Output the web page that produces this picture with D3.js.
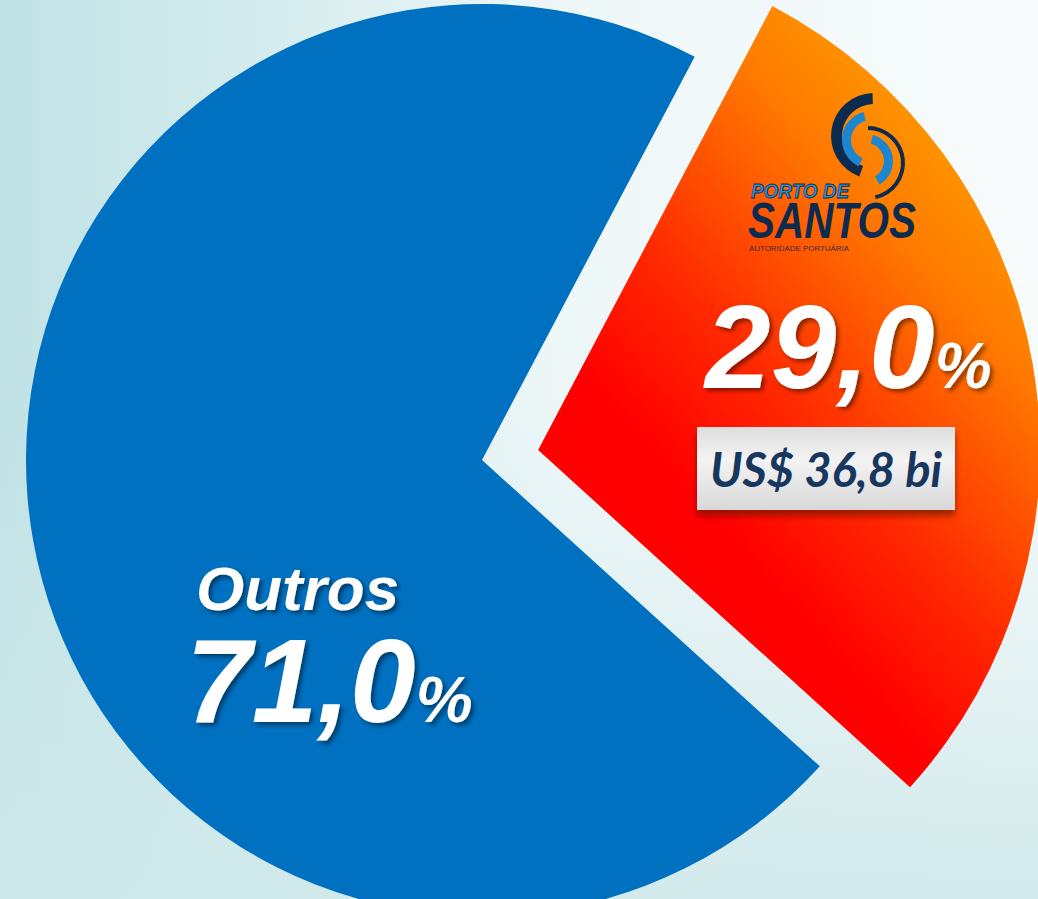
<!DOCTYPE html>
<html>
<head>
<meta charset="utf-8">
<script src="https://cdn.jsdelivr.net/npm/d3@7"></script>
<style>
  html, body { margin: 0; padding: 0; overflow: hidden; }
  svg { display: block; }
</style>
</head>
<body>
<svg></svg>
<script>
// data
const categories = ['Porto de Santos', 'Outros'];
const shares = [29.0, 71.0];
const pctLabels = ['29,0', '71,0'];
const valueLabels = ['US$ 36,8 bi', ''];

const width = 1038;
const height = 899;
const cx = 482, cy = 460;
const deg = Math.PI / 180;

const svg = d3.select('svg')
    .attr('width', width)
    .attr('height', height);

const defs = svg.append('defs');

// background
const bgX = defs.append('linearGradient').attr('id', 'bgx')
    .attr('x1', 0).attr('y1', 0).attr('x2', 1).attr('y2', 0);
bgX.append('stop').attr('offset', 0).attr('stop-color', '#c0e2e5');
bgX.append('stop').attr('offset', 0.55).attr('stop-color', '#eef7f8');
bgX.append('stop').attr('offset', 1).attr('stop-color', '#f8fbfc');

const bgY = defs.append('linearGradient').attr('id', 'bgy')
    .attr('x1', 0).attr('y1', 0).attr('x2', 0).attr('y2', 1);
bgY.append('stop').attr('offset', 0.45).attr('stop-color', '#cfe8ea').attr('stop-opacity', 0);
bgY.append('stop').attr('offset', 1).attr('stop-color', '#cfe8ea').attr('stop-opacity', 0.9);

svg.append('rect').attr('width', width).attr('height', height).attr('fill', 'url(#bgx)');
svg.append('rect').attr('width', width).attr('height', height).attr('fill', 'url(#bgy)');

// slice fills
const orange = defs.append('linearGradient').attr('id', 'orange')
    .attr('gradientUnits', 'userSpaceOnUse')
    .attr('x1', 590).attr('y1', 530).attr('x2', 990).attr('y2', 170);
orange.append('stop').attr('offset', 0).attr('stop-color', '#ff0000');
orange.append('stop').attr('offset', 0.25).attr('stop-color', '#ff2a00');
orange.append('stop').attr('offset', 0.6).attr('stop-color', '#ff7800');
orange.append('stop').attr('offset', 1).attr('stop-color', '#ffb400');

const box = defs.append('linearGradient').attr('id', 'box')
    .attr('x1', 0).attr('y1', 0).attr('x2', 0).attr('y2', 1);
box.append('stop').attr('offset', 0).attr('stop-color', '#dedede');
box.append('stop').attr('offset', 0.4).attr('stop-color', '#f3f3f3');
box.append('stop').attr('offset', 1).attr('stop-color', '#d8d8d8');

const shadow = defs.append('filter').attr('id', 'shadow')
    .attr('x', -0.1).attr('y', -0.1).attr('width', 1.3).attr('height', 1.4);
shadow.append('feDropShadow').attr('dx', 3).attr('dy', 3).attr('stdDeviation', 2)
    .attr('flood-color', '#000').attr('flood-opacity', 0.45);

const boxShadow = defs.append('filter').attr('id', 'boxshadow')
    .attr('x', -0.1).attr('y', -0.2).attr('width', 1.2).attr('height', 1.6);
boxShadow.append('feDropShadow').attr('dx', 0).attr('dy', 6).attr('stdDeviation', 3)
    .attr('flood-color', '#5a1000').attr('flood-opacity', 0.6);

const colors = d3.scaleOrdinal()
    .domain(categories)
    .range(['url(#orange)', '#0070c0']);

const radius = d3.scaleOrdinal()
    .domain(categories)
    .range([502, 456]);

const explode = d3.scaleOrdinal()
    .domain(categories)
    .range([57, 0]);

// orange slice centred on the 80 degree direction
const start = 80 * deg - Math.PI * shares[0] / 100;

const data = categories.map((c, i) => ({category: c, share: shares[i], pct: pctLabels[i], value: valueLabels[i]}));

const arcs = d3.pie()
    .sort(null)
    .value(d => d.share)
    .startAngle(start)
    .endAngle(start + 2 * Math.PI)
    (data);

const arc = d3.arc()
    .innerRadius(0)
    .outerRadius(d => radius(d.data.category));

const chart = svg.append('g')
    .attr('transform', `translate(${cx}, ${cy})`);

chart.selectAll('.slice')
  .data(arcs)
  .enter()
  .append('path')
    .classed('slice', true)
    .attr('transform', d => {
      const mid = (d.startAngle + d.endAngle) / 2;
      const k = explode(d.data.category);
      return `translate(${Math.sin(mid) * k}, ${-Math.cos(mid) * k})`;
    })
    .attr('fill', d => colors(d.data.category))
    .attr('d', arc);

// labels
const bigFont = "'Liberation Sans', Arial, sans-serif";

function pctText(x, y, txt) {
  const t = svg.append('text')
      .attr('x', x).attr('y', y)
      .attr('fill', '#fff')
      .attr('font-family', bigFont)
      .attr('font-weight', 'bold')
      .attr('font-style', 'italic')
      .attr('filter', 'url(#shadow)');
  t.append('tspan').attr('font-size', 118).text(txt);
  t.append('tspan').attr('font-size', 64).text('%');
}

pctText(705, 388, pctLabels[0]);

svg.append('text')
    .attr('x', 196).attr('y', 610)
    .attr('fill', '#fff')
    .attr('font-family', bigFont)
    .attr('font-weight', 'bold')
    .attr('font-style', 'italic')
    .attr('font-size', 62)
    .attr('filter', 'url(#shadow)')
    .text(categories[1]);

pctText(186, 722, pctLabels[1]);

// value box
svg.append('rect')
    .attr('x', 697).attr('y', 427)
    .attr('width', 258).attr('height', 83)
    .attr('fill', 'url(#box)')
    .attr('filter', 'url(#boxshadow)');

svg.append('text')
    .attr('x', 826).attr('y', 487)
    .attr('text-anchor', 'middle')
    .attr('fill', '#17375e')
    .attr('font-family', "Lato, 'Open Sans', sans-serif")
    .attr('font-weight', 'bold')
    .attr('font-style', 'italic')
    .attr('font-size', 47)
    .text(valueLabels[0]);

// logo
const logo = svg.append('g');
const swirl = d3.arc();
const swirls = [
  {x: 874, y: 136, r0: 32, r1: 43, a0: 200, a1: 358, c: '#0d2b4e'},
  {x: 871, y: 140, r0: 20, r1: 29, a0: 205, a1: 345, c: '#1c86d0'},
  {x: 868, y: 163, r0: 33, r1: 37, a0: 0, a1: 168, c: '#0d2b4e'},
  {x: 866, y: 161, r0: 18, r1: 27, a0: 15, a1: 150, c: '#1c86d0'}
];
logo.selectAll('path')
  .data(swirls)
  .enter()
  .append('path')
    .attr('transform', d => `translate(${d.x}, ${d.y})`)
    .attr('fill', d => d.c)
    .attr('d', d => swirl({innerRadius: d.r0, outerRadius: d.r1, startAngle: d.a0 * deg, endAngle: d.a1 * deg}));

logo.append('text')
    .attr('x', 751).attr('y', 198)
    .attr('fill', '#2a92dc')
    .attr('stroke', '#0d2b4e').attr('stroke-width', 0.8)
    .attr('font-family', bigFont)
    .attr('font-weight', 'bold')
    .attr('font-style', 'italic')
    .attr('font-size', 21)
    .attr('textLength', 98)
    .attr('lengthAdjust', 'spacingAndGlyphs')
    .text('PORTO DE');

logo.append('text')
    .attr('x', 748).attr('y', 238)
    .attr('fill', '#0d2b4e')
    .attr('font-family', bigFont)
    .attr('font-weight', 'bold')
    .attr('font-style', 'italic')
    .attr('font-size', 50)
    .attr('textLength', 168)
    .attr('lengthAdjust', 'spacingAndGlyphs')
    .text('SANTOS');

logo.append('text')
    .attr('x', 749).attr('y', 251)
    .attr('fill', '#3a2a40')
    .attr('font-family', bigFont)
    .attr('font-size', 8)
    .attr('textLength', 100)
    .attr('lengthAdjust', 'spacingAndGlyphs')
    .text('AUTORIDADE PORTUÁRIA');
</script>
</body>
</html>
